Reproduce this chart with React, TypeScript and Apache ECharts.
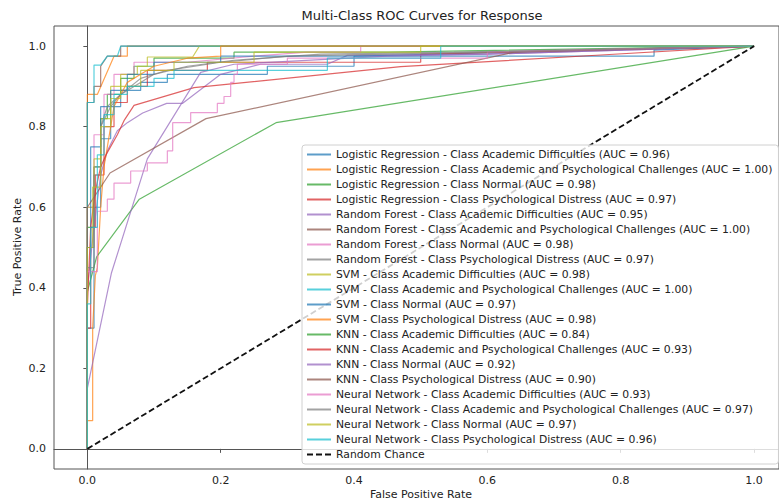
import React, { useEffect, useRef } from "react";
import * as echarts from "echarts";

// ---- data (fpr, tpr) ----
const lrAcademic = [[0,0],[0,0.3],[0.01,0.3],[0.01,0.6],[0.02,0.6],[0.02,0.77],[0.035,0.77],[0.035,0.85],[0.05,0.85],[0.05,0.89],[0.08,0.89],[0.08,0.91],[0.12,0.91],[0.12,0.93],[0.27,0.93],[0.27,0.95],[0.4,0.95],[0.4,0.975],[1,1]];
const lrAcadPsych = [[0,0],[0,0.88],[0.015,0.88],[0.04,0.975],[0.06,0.975],[0.06,1],[1,1]];
const lrNormal = [[0,0],[0,0.55],[0.01,0.55],[0.01,0.7],[0.02,0.7],[0.02,0.82],[0.03,0.82],[0.03,0.88],[0.05,0.88],[0.05,0.92],[0.07,0.92],[0.07,0.95],[0.1,0.95],[0.1,0.97],[0.22,0.97],[0.22,0.985],[0.45,0.985],[1,1]];
const lrPsych = [[0,0],[0,0.3],[0.005,0.3],[0.005,0.55],[0.012,0.55],[0.012,0.68],[0.025,0.68],[0.025,0.8],[0.04,0.8],[0.04,0.86],[0.06,0.86],[0.06,0.9],[0.09,0.9],[0.09,0.94],[0.18,0.94],[0.18,0.96],[0.5,0.96],[0.5,0.98],[1,1]];
const rfAcademic = [[0,0],[0,0.4],[0.01,0.55],[0.02,0.68],[0.03,0.74],[0.045,0.79],[0.06,0.81],[0.083,0.834],[0.119,0.858],[0.143,0.858],[0.2,0.93],[0.26,0.955],[0.36,0.955],[0.39,0.977],[0.6,0.98],[1,1]];
const rfAcadPsych = [[0,0],[0,0.86],[0.01,0.86],[0.01,0.9],[0.02,0.9],[0.02,0.95],[0.03,0.975],[0.05,0.975],[0.05,1],[1,1]];
const rfNormal = [[0,0],[0,0.6],[0.01,0.6],[0.01,0.78],[0.025,0.78],[0.025,0.88],[0.04,0.88],[0.04,0.93],[0.07,0.93],[0.07,0.96],[0.15,0.96],[0.25,0.975],[0.33,0.985],[0.41,0.985],[0.41,1],[1,1]];
const rfPsych = [[0,0],[0,0.5],[0.01,0.5],[0.01,0.7],[0.02,0.7],[0.02,0.8],[0.035,0.85],[0.05,0.88],[0.07,0.9],[0.1,0.93],[0.15,0.95],[0.22,0.965],[0.35,0.98],[0.55,0.985],[1,1]];
const svmAcademic = [[0,0],[0,0.6],[0.01,0.6],[0.01,0.72],[0.02,0.72],[0.02,0.82],[0.035,0.82],[0.035,0.9],[0.05,0.9],[0.05,0.93],[0.075,0.93],[0.075,0.95],[0.09,0.95],[0.09,0.973],[0.158,0.973],[0.168,1],[1,1]];
const svmAcadPsych = [[0,0],[0,0.86],[0.01,0.86],[0.01,0.953],[0.02,0.953],[0.03,0.975],[0.045,0.975],[0.05,1],[1,1]];
const svmNormal = [[0,0],[0,0.5],[0.005,0.5],[0.005,0.75],[0.02,0.75],[0.02,0.85],[0.035,0.85],[0.035,0.89],[0.06,0.89],[0.06,0.93],[0.1,0.93],[0.1,0.96],[0.2,0.96],[0.2,0.975],[0.85,0.975],[0.85,0.99],[1,1]];
const svmPsych = [[0,0],[0,0.07],[0.008,0.07],[0.008,0.3],[0.012,0.43],[0.015,0.45],[0.02,0.6],[0.025,0.7],[0.03,0.75],[0.04,0.85],[0.05,0.88],[0.06,0.91],[0.08,0.93],[0.1,0.95],[0.15,0.97],[0.2,0.975],[0.2,1],[1,1]];
const knnAcademic = [[0,0],[0,0.39],[0.014,0.477],[0.078,0.62],[0.283,0.81],[1,1]];
const knnAcadPsych = [[0,0],[0,0.35],[0.005,0.55],[0.012,0.64],[0.02,0.7],[0.028,0.73],[0.045,0.78],[0.055,0.815],[0.07,0.853],[0.16,0.897],[0.47,0.949],[0.77,0.978],[1,1]];
const knnNormal = [[0,0],[0,0.15],[0.036,0.436],[0.09,0.72],[0.17,0.935],[0.22,0.955],[0.45,0.975],[0.6,0.98],[1,1]];
const knnPsych = [[0,0],[0,0.6],[0.034,0.685],[0.178,0.82],[0.64,0.985],[1,1]];
const nnAcademic = [[0,0],[0,0.44],[0.015,0.44],[0.015,0.59],[0.03,0.59],[0.03,0.62],[0.04,0.62],[0.04,0.66],[0.065,0.66],[0.065,0.69],[0.09,0.69],[0.09,0.71],[0.12,0.71],[0.12,0.74],[0.128,0.74],[0.128,0.81],[0.155,0.81],[0.155,0.835],[0.195,0.835],[0.195,0.858],[0.205,0.858],[0.205,0.875],[0.215,0.875],[0.215,0.91],[0.22,0.91],[0.22,0.93],[0.225,0.93],[0.225,0.955],[0.3,0.955],[0.3,0.97],[0.6,0.97],[0.6,0.985],[1,1]];
const nnAcadPsych = [[0,0],[0,0.45],[0.01,0.45],[0.01,0.68],[0.02,0.68],[0.02,0.8],[0.03,0.85],[0.05,0.88],[0.08,0.92],[0.12,0.94],[0.2,0.96],[0.3,0.975],[0.6,0.985],[1,1]];
const nnNormal = [[0,0],[0,0.5],[0.008,0.5],[0.008,0.65],[0.02,0.65],[0.02,0.8],[0.035,0.8],[0.035,0.87],[0.05,0.87],[0.05,0.9],[0.08,0.9],[0.08,0.94],[0.13,0.94],[0.13,0.96],[0.25,0.96],[0.25,0.985],[0.5,0.985],[0.5,1],[1,1]];
const nnPsych = [[0,0],[0,0.36],[0.005,0.36],[0.005,0.55],[0.015,0.55],[0.015,0.73],[0.025,0.73],[0.025,0.83],[0.04,0.83],[0.04,0.88],[0.06,0.88],[0.06,0.9],[0.1,0.9],[0.1,0.92],[0.13,0.92],[0.13,0.94],[0.36,0.94],[0.36,0.97],[0.53,0.97],[0.53,1],[1,1]];
const randomChance = [[0,0],[1,1]];

const curveNames = [
  "Logistic Regression - Class Academic Difficulties (AUC = 0.96)",
  "Logistic Regression - Class Academic and Psychological Challenges (AUC = 1.00)",
  "Logistic Regression - Class Normal (AUC = 0.98)",
  "Logistic Regression - Class Psychological Distress (AUC = 0.97)",
  "Random Forest - Class Academic Difficulties (AUC = 0.95)",
  "Random Forest - Class Academic and Psychological Challenges (AUC = 1.00)",
  "Random Forest - Class Normal (AUC = 0.98)",
  "Random Forest - Class Psychological Distress (AUC = 0.97)",
  "SVM - Class Academic Difficulties (AUC = 0.98)",
  "SVM - Class Academic and Psychological Challenges (AUC = 1.00)",
  "SVM - Class Normal (AUC = 0.97)",
  "SVM - Class Psychological Distress (AUC = 0.98)",
  "KNN - Class Academic Difficulties (AUC = 0.84)",
  "KNN - Class Academic and Psychological Challenges (AUC = 0.93)",
  "KNN - Class Normal (AUC = 0.92)",
  "KNN - Class Psychological Distress (AUC = 0.90)",
  "Neural Network - Class Academic Difficulties (AUC = 0.93)",
  "Neural Network - Class Academic and Psychological Challenges (AUC = 0.97)",
  "Neural Network - Class Normal (AUC = 0.97)",
  "Neural Network - Class Psychological Distress (AUC = 0.96)",
];
const curveData = [
  lrAcademic, lrAcadPsych, lrNormal, lrPsych,
  rfAcademic, rfAcadPsych, rfNormal, rfPsych,
  svmAcademic, svmAcadPsych, svmNormal, svmPsych,
  knnAcademic, knnAcadPsych, knnNormal, knnPsych,
  nnAcademic, nnAcadPsych, nnNormal, nnPsych,
];
const palette = ["#1f77b4","#ff7f0e","#2ca02c","#d62728","#9467bd","#8c564b","#e377c2","#7f7f7f","#bcbd22","#17becf"];
const tickValues = [0, 0.2, 0.4, 0.6, 0.8, 1.0];

const FONT = "DejaVu Sans";

export default function App() {
  const ref = useRef<HTMLDivElement>(null);
  useEffect(() => {
    if (!ref.current) return;
    const chart = echarts.init(ref.current, null, { renderer: "svg" });
    const series: any[] = curveData.map((d, i) => ({
      name: curveNames[i],
      type: "line",
      data: d,
      symbol: "none",
      color: palette[i % 10],
      lineStyle: { width: 1.2, opacity: 0.72, color: palette[i % 10] },
      z: 2,
    }));
    series.push({
      name: "Random Chance",
      type: "line",
      data: randomChance,
      symbol: "none",
      color: "#111",
      lineStyle: { width: 1.8, type: [6, 3], color: "#111" },
      z: 3,
    });
    const legendData: any[] = curveNames.map((n) => ({ name: n }));
    legendData.push({ name: "Random Chance", lineStyle: { opacity: 1 } });
    chart.setOption({
      animation: false,
      backgroundColor: "#fff",
      grid: {
        left: 54, top: 26, width: 727, height: 443,
        show: true, borderColor: "#555", borderWidth: 1, backgroundColor: "transparent",
      },
      xAxis: {
        type: "value", min: -0.05, max: 1.0374,
        axisLine: { show: true, lineStyle: { color: "#555", width: 1 } },
        axisTick: { show: true, length: 4, customValues: tickValues, lineStyle: { color: "#555" } },
        axisLabel: { customValues: tickValues, formatter: (v: number) => v.toFixed(1), fontFamily: FONT, fontSize: 11, color: "#222", margin: 6 },
        splitLine: { show: false },
      },
      yAxis: {
        type: "value", min: -0.05, max: 1.05,
        axisLine: { show: true, lineStyle: { color: "#555", width: 1 } },
        axisTick: { show: true, length: 4, customValues: tickValues, lineStyle: { color: "#555" } },
        axisLabel: { customValues: tickValues, formatter: (v: number) => v.toFixed(1), fontFamily: FONT, fontSize: 11, color: "#222", margin: 8 },
        splitLine: { show: false },
      },
      legend: {
        orient: "vertical", left: 302, top: 145,
        padding: [4, 6, 4, 4],
        itemWidth: 24, itemHeight: 10, itemGap: 4,
        backgroundColor: "rgba(255,255,255,0.8)",
        borderColor: "#d0d0d0", borderWidth: 1, borderRadius: 3,
        itemStyle: { color: "transparent", borderColor: "transparent", borderWidth: 0, opacity: 0 },
        lineStyle: { opacity: 0.72 },
        textStyle: { fontFamily: FONT, fontSize: 10.8, color: "#222", lineHeight: 11 },
        data: legendData,
      },
      graphic: [
        { type: "text", x: 422, y: 15, style: { text: "Multi-Class ROC Curves for Response", fontFamily: FONT, fontSize: 13, fill: "#222", align: "center", verticalAlign: "middle" } },
        { type: "text", x: 421, y: 494, style: { text: "False Positive Rate", fontFamily: FONT, fontSize: 11, fill: "#222", align: "center", verticalAlign: "middle" } },
        { type: "text", x: 17, y: 247, rotation: Math.PI / 2, style: { text: "True Positive Rate", fontFamily: FONT, fontSize: 11, fill: "#222", align: "center", verticalAlign: "middle" } },
      ],
      series,
    });
    return () => chart.dispose();
  }, []);
  return <div ref={ref} style={{ position: "fixed", left: 0, top: 0, width: 779, height: 502 }} />;
}
